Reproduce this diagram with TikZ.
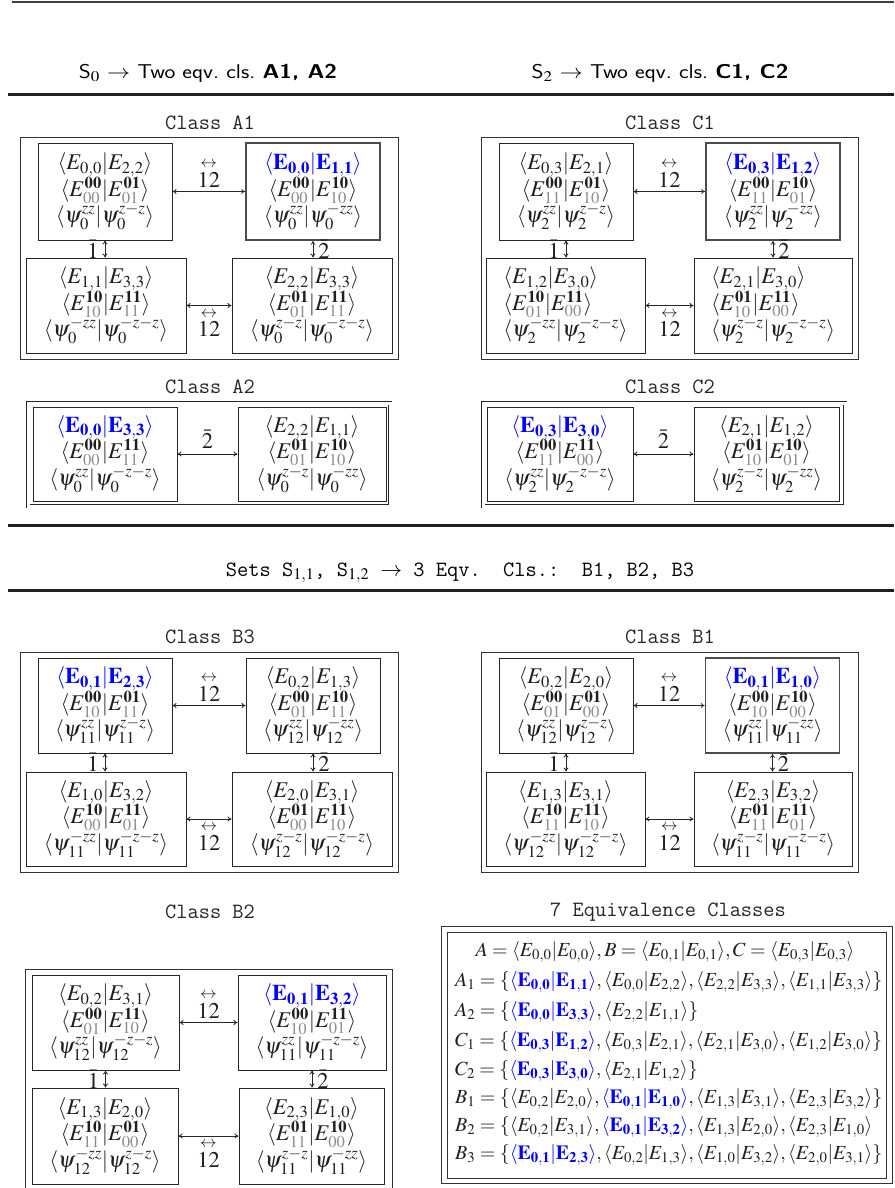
\documentclass[tikz,border=0pt]{standalone}
\usepackage{graphicx}
\usepackage{mathptmx}
\usetikzlibrary{arrows.meta}
\newcommand{\gsub}[1]{\textcolor{black!45}{#1}}
\newcommand{\Eb}[2]{E^{\mathbf{#1}}_{\gsub{#2}}}
\newcommand{\bk}[2]{\langle #1|#2\rangle}
\newcommand{\bbk}[2]{\textcolor{blue}{\langle\mathbf{#1}|\mathbf{#2}\rangle}}
\newcommand{\cellfont}{\fontsize{22.5}{26.5}\selectfont\lineskiplimit=-50pt}
\newcommand{\rowfont}{\fontsize{20}{24}\selectfont}
\newcommand{\ttlabel}{\fontsize{21.8}{25}\selectfont\ttfamily}
\newcommand{\sfhead}{\fontsize{20}{24}\selectfont\sffamily}
\newcommand{\lr}{\stackrel{\leftrightarrow}{12}}
\tikzset{
  cellbox/.style={draw=black!85, line width=0.9pt, inner sep=0pt, align=center, font=\cellfont, text=black!88},
  hlbox/.style={line width=1.7pt, draw=black!70},
  outerframe/.style={draw=black!80, line width=0.9pt},
  dframe/.style={draw=black!85, double, double distance=3pt, line width=0.7pt},
  biarrow/.style={<->, >={To[length=4pt,width=5pt]}, line width=0.8pt, draw=black!85},
  arrlabel/.style={font=\cellfont, inner sep=1pt, text=black!88},
  clslabel/.style={font=\ttlabel, text=black!85},
  rulethin/.style={line width=1.6pt, draw=black!75},
  rulethick/.style={line width=3pt, draw=black!88},
  eqrow/.style={font=\rowfont, inner sep=0pt, text=black!88},
}
\begin{document}
\begin{tikzpicture}[x=1pt,y=-1pt]
\useasboundingbox (0,0) rectangle (894,1188);
% rules and headers
\draw[rulethin] (12,2) -- (894,2);
\node[font=\sfhead] (h0) at (208,73) {\scalebox{1.15}[1]{S$_0$ $\rightarrow$ Two eqv.\ cls.\ \textbf{A1, A2}}};
\node[font=\sfhead] (h2) at (660,73) {\scalebox{1.15}[1]{S$_2$ $\rightarrow$ Two eqv.\ cls.\ \textbf{C1, C2}}};
\draw[rulethick] (8,95) -- (894,95);
\draw[rulethick] (8,525) -- (894,525);
\node[font=\ttlabel] (hs) at (460,573) {Sets S$_{1,1}$, S$_{1,2}$ $\rightarrow$ 3 Eqv.\ \ Cls.:\ \ B1, B2, B3};
\draw[rulethick] (8,590) -- (894,590);

% ---------- Class A1 ----------
\node[clslabel] (la1) at (210,123) {Class A1};
\draw[outerframe] (20,137) rectangle (398,359);
\node[cellbox, minimum width=134pt, minimum height=97pt] (a1tl) at (105,191.5)
  {$\bk{E_{0,0}}{E_{2,2}}$\\$\bk{\Eb{00}{00}}{\Eb{01}{01}}$\\$\bk{\psi_0^{zz}}{\psi_0^{z-z}}$};
\node[cellbox, hlbox, minimum width=134pt, minimum height=97pt] (a1tr) at (313,191.5)
  {$\bbk{E_{0,0}}{E_{1,1}}$\\$\bk{\Eb{00}{00}}{\Eb{10}{10}}$\\$\bk{\psi_0^{zz}}{\psi_0^{-zz}}$};
\node[cellbox, minimum width=160pt, minimum height=95pt] (a1bl) at (106,305.5)
  {$\bk{E_{1,1}}{E_{3,3}}$\\$\bk{\Eb{10}{10}}{\Eb{11}{11}}$\\$\bk{\psi_0^{-zz}}{\psi_0^{-z-z}}$};
\node[cellbox, minimum width=160pt, minimum height=95pt] (a1br) at (312,305.5)
  {$\bk{E_{2,2}}{E_{3,3}}$\\$\bk{\Eb{01}{01}}{\Eb{11}{11}}$\\$\bk{\psi_0^{z-z}}{\psi_0^{-z-z}}$};
\draw[biarrow] (a1tl) -- node[arrlabel, above=3pt] {$\lr$} (a1tr);
\draw[biarrow] (a1bl) -- node[arrlabel, below=2pt] {$\lr$} (a1br);
\draw[biarrow] (a1tl.south) -- node[arrlabel, left=5pt] {$\bar 1$} (a1tl.south |- a1bl.north);
\draw[biarrow] (a1tr.south) -- node[arrlabel, right=4pt] {$\bar 2$} (a1tr.south |- a1br.north);

% ---------- Class C1 ----------
\node[clslabel] (lc1) at (670,123) {Class C1};
\draw[outerframe] (481,137) rectangle (858,359);
\node[cellbox, minimum width=134pt, minimum height=97pt] (c1tl) at (566,191.5)
  {$\bk{E_{0,3}}{E_{2,1}}$\\$\bk{\Eb{00}{11}}{\Eb{01}{10}}$\\$\bk{\psi_2^{zz}}{\psi_2^{z-z}}$};
\node[cellbox, hlbox, minimum width=134pt, minimum height=97pt] (c1tr) at (773,191.5)
  {$\bbk{E_{0,3}}{E_{1,2}}$\\$\bk{\Eb{00}{11}}{\Eb{10}{01}}$\\$\bk{\psi_2^{zz}}{\psi_2^{-zz}}$};
\node[cellbox, align=left, minimum width=159pt, minimum height=95pt] (c1bl) at (565.5,305.5)
  {$\bk{E_{1,2}}{E_{3,0}}$\\$\bk{\Eb{10}{01}}{\Eb{11}{00}}$\\$\bk{\psi_2^{-zz}}{\psi_2^{-z-z}}$};
\node[cellbox, align=left, minimum width=158pt, minimum height=95pt] (c1br) at (773,305.5)
  {$\bk{E_{2,1}}{E_{3,0}}$\\$\bk{\Eb{01}{10}}{\Eb{11}{00}}$\\$\bk{\psi_2^{z-z}}{\psi_2^{-z-z}}$};
\draw[biarrow] (c1tl) -- node[arrlabel, above=3pt] {$\lr$} (c1tr);
\draw[biarrow] (c1bl) -- node[arrlabel, below=2pt] {$\lr$} (c1br);
\draw[biarrow] (c1tl.south) -- node[arrlabel, left=5pt] {$\bar 1$} (c1tl.south |- c1bl.north);
\draw[biarrow] (c1tr.south) -- node[arrlabel, right=4pt] {$\bar 2$} (c1tr.south |- c1br.north);

% ---------- Class A2 ----------
\node[clslabel] (la2) at (210,387) {Class A2};
\draw[dframe] (28,403) rectangle (390,506);
\node[cellbox, minimum width=144pt, minimum height=94pt] (a2l) at (105,454)
  {$\bbk{E_{0,0}}{E_{3,3}}$\\$\bk{\Eb{00}{00}}{\Eb{11}{11}}$\\$\bk{\psi_0^{zz}}{\psi_0^{-z-z}}$};
\node[cellbox, minimum width=148pt, minimum height=94pt] (a2r) at (312,454)
  {$\bk{E_{2,2}}{E_{1,1}}$\\$\bk{\Eb{01}{01}}{\Eb{10}{10}}$\\$\bk{\psi_0^{z-z}}{\psi_0^{-zz}}$};
\draw[biarrow] (a2l) -- node[arrlabel, above=4pt] {$\bar 2$} (a2r);

% ---------- Class C2 ----------
\node[clslabel] (lc2) at (670,387) {Class C2};
\draw[dframe] (483,403) rectangle (845,506);
\node[cellbox, minimum width=146pt, minimum height=94pt] (c2l) at (560,454)
  {$\bbk{E_{0,3}}{E_{3,0}}$\\$\bk{\Eb{00}{11}}{\Eb{11}{00}}$\\$\bk{\psi_2^{zz}}{\psi_2^{-z-z}}$};
\node[cellbox, minimum width=145pt, minimum height=94pt] (c2r) at (766.5,454)
  {$\bk{E_{2,1}}{E_{1,2}}$\\$\bk{\Eb{01}{10}}{\Eb{10}{01}}$\\$\bk{\psi_2^{z-z}}{\psi_2^{-zz}}$};
\draw[biarrow] (c2l) -- node[arrlabel, above=4pt] {$\bar 2$} (c2r);

% ---------- Class B3 ----------
\node[clslabel] (lb3) at (210,637) {Class B3};
\draw[outerframe] (20,652) rectangle (398,872);
\node[cellbox, minimum width=134pt, minimum height=95pt] (b3tl) at (105,705.5)
  {$\bbk{E_{0,1}}{E_{2,3}}$\\$\bk{\Eb{00}{10}}{\Eb{01}{11}}$\\$\bk{\psi_{11}^{zz}}{\psi_{11}^{z-z}}$};
\node[cellbox, minimum width=134pt, minimum height=95pt] (b3tr) at (313,705.5)
  {$\bk{E_{0,2}}{E_{1,3}}$\\$\bk{\Eb{00}{01}}{\Eb{10}{11}}$\\$\bk{\psi_{12}^{zz}}{\psi_{12}^{-zz}}$};
\node[cellbox, minimum width=160pt, minimum height=94pt] (b3bl) at (106,819)
  {$\bk{E_{1,0}}{E_{3,2}}$\\$\bk{\Eb{10}{00}}{\Eb{11}{01}}$\\$\bk{\psi_{11}^{-zz}}{\psi_{11}^{-z-z}}$};
\node[cellbox, minimum width=160pt, minimum height=94pt] (b3br) at (312,819)
  {$\bk{E_{2,0}}{E_{3,1}}$\\$\bk{\Eb{01}{00}}{\Eb{11}{10}}$\\$\bk{\psi_{12}^{z-z}}{\psi_{12}^{-z-z}}$};
\draw[biarrow] (b3tl) -- node[arrlabel, above=3pt] {$\lr$} (b3tr);
\draw[biarrow] (b3bl) -- node[arrlabel, below=2pt] {$\lr$} (b3br);
\draw[biarrow] (b3tl.south) -- node[arrlabel, left=5pt] {$\bar 1$} (b3tl.south |- b3bl.north);
\draw[biarrow] (b3tr.south) -- node[arrlabel, right=4pt] {$\bar 2$} (b3tr.south |- b3br.north);

% ---------- Class B1 ----------
\node[clslabel] (lb1) at (670,637) {Class B1};
\draw[outerframe] (481,652) rectangle (858,872);
\node[cellbox, minimum width=134pt, minimum height=95pt] (b1tl) at (566,705.5)
  {$\bk{E_{0,2}}{E_{2,0}}$\\$\bk{\Eb{00}{01}}{\Eb{01}{00}}$\\$\bk{\psi_{12}^{zz}}{\psi_{12}^{z-z}}$};
\node[cellbox, hlbox, minimum width=134pt, minimum height=95pt] (b1tr) at (772.5,705.5)
  {$\bbk{E_{0,1}}{E_{1,0}}$\\$\bk{\Eb{00}{10}}{\Eb{10}{00}}$\\$\bk{\psi_{11}^{zz}}{\psi_{11}^{-zz}}$};
\node[cellbox, minimum width=159pt, minimum height=94pt] (b1bl) at (565.5,819)
  {$\bk{E_{1,3}}{E_{3,1}}$\\$\bk{\Eb{10}{11}}{\Eb{11}{10}}$\\$\bk{\psi_{12}^{-zz}}{\psi_{12}^{-z-z}}$};
\node[cellbox, minimum width=158pt, minimum height=94pt] (b1br) at (773,819)
  {$\bk{E_{2,3}}{E_{3,2}}$\\$\bk{\Eb{01}{11}}{\Eb{11}{01}}$\\$\bk{\psi_{11}^{z-z}}{\psi_{11}^{-z-z}}$};
\draw[biarrow] (b1tl) -- node[arrlabel, above=3pt] {$\lr$} (b1tr);
\draw[biarrow] (b1bl) -- node[arrlabel, below=2pt] {$\lr$} (b1br);
\draw[biarrow] (b1tl.south) -- node[arrlabel, left=5pt] {$\bar 1$} (b1tl.south |- b1bl.north);
\draw[biarrow] (b1tr.south) -- node[arrlabel, right=4pt] {$\bar 2$} (b1tr.south |- b1br.north);

% ---------- Class B2 ----------
\node[clslabel] (lb2) at (210,912) {Class B2};
\draw[outerframe] (25,1200) -- (25,969) -- (392,969) -- (392,1200);
\node[cellbox, minimum width=147pt, minimum height=95pt] (b2tl) at (105.5,1022.5)
  {$\bk{E_{0,2}}{E_{3,1}}$\\$\bk{\Eb{00}{01}}{\Eb{11}{10}}$\\$\bk{\psi_{12}^{zz}}{\psi_{12}^{-z-z}}$};
\node[cellbox, minimum width=148pt, minimum height=95pt] (b2tr) at (312,1022.5)
  {$\bbk{E_{0,1}}{E_{3,2}}$\\$\bk{\Eb{00}{10}}{\Eb{11}{01}}$\\$\bk{\psi_{11}^{zz}}{\psi_{11}^{-z-z}}$};
\node[cellbox, minimum width=146pt, minimum height=96pt] (b2bl) at (105,1136)
  {$\bk{E_{1,3}}{E_{2,0}}$\\$\bk{\Eb{10}{11}}{\Eb{01}{00}}$\\$\bk{\psi_{12}^{-zz}}{\psi_{12}^{z-z}}$};
\node[cellbox, minimum width=145pt, minimum height=96pt] (b2br) at (311.5,1136)
  {$\bk{E_{2,3}}{E_{1,0}}$\\$\bk{\Eb{01}{11}}{\Eb{10}{00}}$\\$\bk{\psi_{11}^{z-z}}{\psi_{11}^{-zz}}$};
\draw[biarrow] (b2tl) -- node[arrlabel, above=3pt] {$\lr$} (b2tr);
\draw[biarrow] (b2bl) -- node[arrlabel, below=2pt] {$\lr$} (b2br);
\draw[biarrow] (b2tl.south) -- node[arrlabel, left=5pt] {$\bar 1$} (b2tl.south |- b2bl.north);
\draw[biarrow] (b2tr.south) -- node[arrlabel, right=4pt] {$\bar 2$} (b2tr.south |- b2br.north);

% ---------- 7 Equivalence Classes ----------
\node[clslabel] (leq) at (668,912) {7 Equivalence Classes};
\draw[outerframe] (441,926) rectangle (892,1183);
\draw[outerframe] (447,932) rectangle (886,1178);
\node[eqrow] (r0) at (665,952) {$A=\bk{E_{0,0}}{E_{0,0}}, B=\bk{E_{0,1}}{E_{0,1}}, C=\bk{E_{0,3}}{E_{0,3}}$};
\node[eqrow, anchor=west] (r1) at (455,982) {$A_1=\{\bbk{E_{0,0}}{E_{1,1}}, \bk{E_{0,0}}{E_{2,2}}, \bk{E_{2,2}}{E_{3,3}}, \bk{E_{1,1}}{E_{3,3}}\}$};
\node[eqrow, anchor=west] (r2) at (455,1012) {$A_2=\{\bbk{E_{0,0}}{E_{3,3}}, \bk{E_{2,2}}{E_{1,1}}\}$};
\node[eqrow, anchor=west] (r3) at (455,1042) {$C_1=\{\bbk{E_{0,3}}{E_{1,2}}, \bk{E_{0,3}}{E_{2,1}}, \bk{E_{2,1}}{E_{3,0}}, \bk{E_{1,2}}{E_{3,0}}\}$};
\node[eqrow, anchor=west] (r4) at (455,1071) {$C_2=\{\bbk{E_{0,3}}{E_{3,0}}, \bk{E_{2,1}}{E_{1,2}}\}$};
\node[eqrow, anchor=west] (r5) at (455,1099) {$B_1=\{\bk{E_{0,2}}{E_{2,0}}, \bbk{E_{0,1}}{E_{1,0}}, \bk{E_{1,3}}{E_{3,1}}, \bk{E_{2,3}}{E_{3,2}}\}$};
\node[eqrow, anchor=west] (r6) at (455,1127) {$B_2=\{\bk{E_{0,2}}{E_{3,1}}, \bbk{E_{0,1}}{E_{3,2}}, \bk{E_{1,3}}{E_{2,0}}, \bk{E_{2,3}}{E_{1,0}}$};
\node[eqrow, anchor=west] (r7) at (455,1155) {$B_3=\{\bbk{E_{0,1}}{E_{2,3}}, \bk{E_{0,2}}{E_{1,3}}, \bk{E_{1,0}}{E_{3,2}}, \bk{E_{2,0}}{E_{3,1}}\}$};
\end{tikzpicture}
\end{document}
